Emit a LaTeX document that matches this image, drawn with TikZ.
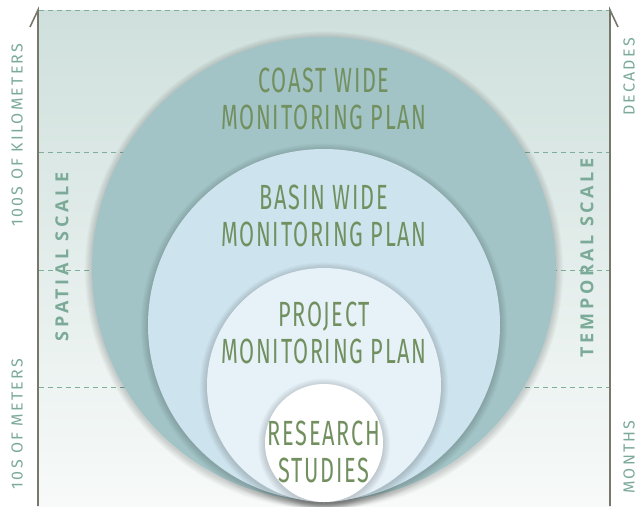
\documentclass[tikz,border=0pt]{standalone}
\usepackage{fontspec}
\setmainfont{Fira Sans}
\newfontfamily\condfont[FakeStretch=0.62,LetterSpace=5]{Fira Sans}
\newfontfamily\sidefont[LetterSpace=14]{Fira Sans}
\newfontfamily\sideboldfont[LetterSpace=20]{Open Sans}
\definecolor{bgtop}{HTML}{CFE0DC}
\definecolor{bgbot}{HTML}{F7FAF9}
\definecolor{axis}{HTML}{77776B}
\definecolor{dash}{HTML}{7FAE9E}
\definecolor{coastc}{HTML}{A3C4C6}
\definecolor{basinc}{HTML}{CDE4EE}
\definecolor{projc}{HTML}{E7F2F8}
\definecolor{resc}{HTML}{FFFFFF}
\definecolor{maintext}{HTML}{72905F}
\definecolor{sidetext}{HTML}{7BAA98}
\begin{document}
\begin{tikzpicture}[x=1pt,y=-1pt,
  axisline/.style={draw=axis,line width=1.6pt},
  dashline/.style={draw=dash,line width=0.8pt,dash pattern=on 5pt off 4pt},
  ring/.style={circle,inner sep=0pt,outer sep=0pt},
  maintxt/.style={text=maintext,font=\condfont\fontsize{35}{37}\selectfont,align=center},
  sidetxt/.style={text=sidetext,font=\sidefont\fontsize{16}{17}\selectfont,rotate=90},
  sidebold/.style={text=sidetext,font=\sideboldfont\bfseries\fontsize{18}{19}\selectfont,rotate=90}]
\useasboundingbox (0,0) rectangle (636,506);
% background
\shade[top color=bgtop,bottom color=bgbot] (39,10) rectangle (610,506);
% dashed levels
\coordinate (d0l) at (39,10);  \coordinate (d0r) at (610,10);
\coordinate (d1l) at (39,152); \coordinate (d1r) at (610,152);
\coordinate (d2l) at (39,270); \coordinate (d2r) at (610,270);
\coordinate (d3l) at (39,387); \coordinate (d3r) at (610,387);
\draw[dashline] (d0l) -- (d0r);
\draw[dashline] (d1l) -- (d1r);
\draw[dashline] (d2l) -- (d2r);
\draw[dashline] (d3l) -- (d3r);
% axes
\coordinate (lt) at (38,10); \coordinate (lb) at (38,506); \coordinate (ltk) at (30,27);
\coordinate (rt) at (610,10); \coordinate (rb) at (610,506); \coordinate (rtk) at (618,27);
\draw[axisline] (ltk) -- (lt) -- (lb);
\draw[axisline] (rtk) -- (rt) -- (rb);
% shadows + circles
\foreach \k in {1,...,8}{\fill[black,opacity=0.02] (324,270.5) circle ({232+\k*0.9});}
\node[ring,fill=coastc,minimum size=464pt] (coast) at (324,269) {};
\foreach \k in {1,...,8}{\fill[black,opacity=0.02] (324,326.5) circle ({176+\k*0.9});}
\node[ring,fill=basinc,minimum size=352pt] (basin) at (324,325) {};
\foreach \k in {1,...,8}{\fill[black,opacity=0.02] (324,386.5) circle ({117+\k*0.9});}
\node[ring,fill=projc,minimum size=234pt] (proj) at (324,385) {};
\foreach \k in {1,...,8}{\fill[black,opacity=0.02] (324,444.5) circle ({59+\k*0.9});}
\node[ring,fill=resc,minimum size=118pt] (res) at (324,443) {};
% labels
\node[maintxt] (tcoast) at (324,99) {COAST WIDE\\MONITORING PLAN};
\node[maintxt] (tbasin) at (324,216) {BASIN WIDE\\MONITORING PLAN};
\node[maintxt] (tproj) at (324,333) {PROJECT\\MONITORING PLAN};
\node[maintxt] (tres) at (324,452) {RESEARCH\\STUDIES};
% side texts
\node[sidetxt] (km) at (17,135) {100S OF KILOMETERS};
\node[sidetxt] (m) at (17,424) {10S OF METERS};
\node[sidebold] (spat) at (62,257) {SPATIAL SCALE};
\node[sidetxt] (dec) at (629,77) {DECADES};
\node[sidetxt] (mon) at (629,457) {MONTHS};
\node[sidebold] (temp) at (587,258) {TEMPORAL SCALE};
\end{tikzpicture}
\end{document}
